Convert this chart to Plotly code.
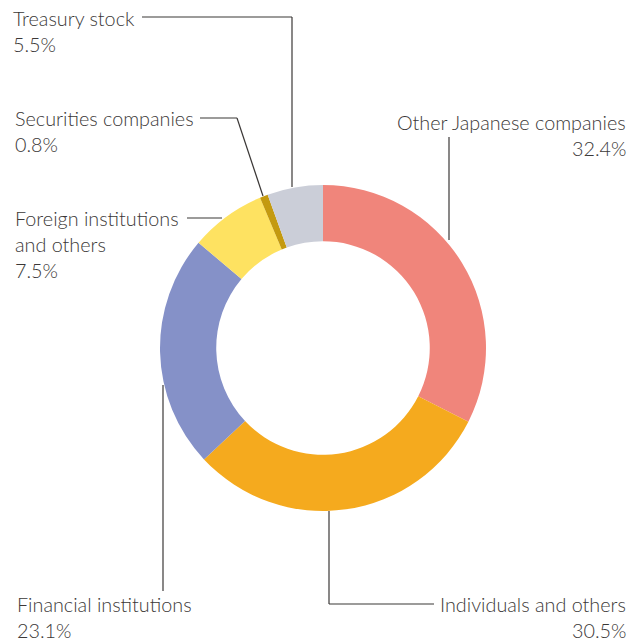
import plotly.graph_objects as go

W, H = 629, 641

categories = ["Other Japanese companies", "Individuals and others", "Financial institutions",
              "Foreign institutions and others", "Securities companies", "Treasury stock"]
values = [32.4, 30.5, 23.1, 7.5, 0.8, 5.5]
colors = ["#F0857B", "#F5AA1E", "#8591C8", "#FEE261", "#C49A10", "#CBCED8"]

label_lines = {
    "Other Japanese companies": ["Other Japanese companies"],
    "Individuals and others": ["Individuals and others"],
    "Financial institutions": ["Financial institutions"],
    "Foreign institutions and others": ["Foreign institutions", "and others"],
    "Securities companies": ["Securities companies"],
    "Treasury stock": ["Treasury stock"],
}

TEXT = "#3b3837"
FONT = "Lato"

cx, cy, R = 323, 348, 163


def px(x):
    return x / W


def py(y):
    return 1 - y / H


fig = go.Figure(go.Pie(
    labels=categories, values=values, sort=False, direction="clockwise", rotation=0,
    hole=0.655, marker=dict(colors=colors, line=dict(width=0)),
    textinfo="none", showlegend=False, hoverinfo="label+percent",
    domain=dict(x=[px(cx - R), px(cx + R)], y=[py(cy + R), py(cy - R)]),
))

placements = {
    "Treasury stock": (11, 18, "left"),
    "Securities companies": (13, 118, "left"),
    "Other Japanese companies": (628, 122, "right"),
    "Foreign institutions and others": (13, 218, "left"),
    "Financial institutions": (15, 604, "left"),
    "Individuals and others": (628, 604, "right"),
}
LH = 26
ann = []
for cat, v in zip(categories, values):
    x, y0, anc = placements[cat]
    lines = label_lines[cat] + [f"{v}%"]
    for i, t in enumerate(lines):
        ann.append(dict(x=px(x), y=py(y0 + i * LH), xref="paper", yref="paper", text=t,
                        showarrow=False, xanchor=anc, yanchor="middle",
                        font=dict(family=FONT, size=19.8, color=TEXT, weight=300)))

paths = [
    [(142, 17), (292, 17), (292, 187)],
    [(200, 118), (237, 118), (263, 196)],
    [(449, 137), (449, 240)],
    [(187, 218), (222, 218)],
    [(163, 385), (163, 591)],
    [(329, 511), (329, 604), (434, 604)],
]
shapes = []
for p in paths:
    for (x0, y0), (x1, y1) in zip(p[:-1], p[1:]):
        shapes.append(dict(type="line", xref="paper", yref="paper",
                           x0=px(x0), y0=py(y0), x1=px(x1), y1=py(y1),
                           line=dict(color=TEXT, width=1.2), layer="above"))

fig.update_layout(width=W, height=H, margin=dict(l=0, r=0, t=0, b=0),
                  paper_bgcolor="white", plot_bgcolor="white",
                  annotations=ann, shapes=shapes)

fig.write_html("out.html", config={"displayModeBar": False},
               post_script="document.body.style.margin='0';document.body.style.overflow='hidden';")
